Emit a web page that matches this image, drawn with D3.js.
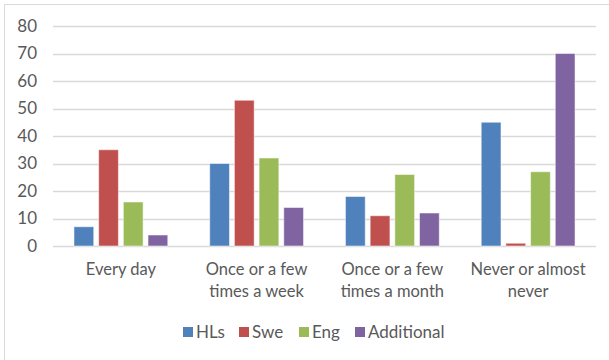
<!DOCTYPE html>
<html>
<head>
<meta charset="utf-8">
<script src="https://cdn.jsdelivr.net/npm/d3@7"></script>
<style>
  html, body { margin: 0; padding: 0; background: #fff; }
  svg { display: block; }
  text { font-family: Lato, "Open Sans", sans-serif; fill: #595959; }
</style>
</head>
<body>
<script>
// Frequency categories (two-line labels where wrapped)
const categories = [
  ["Every day"],
  ["Once or a few", "times a week"],
  ["Once or a few", "times a month"],
  ["Never or almost", "never"]
];
const seriesNames = ["HLs", "Swe", "Eng", "Additional"];
const seriesColors = ["#4F81BD", "#C0504D", "#9BBB59", "#8064A2"];
const hls        = [7, 30, 18, 45];
const swe        = [35, 53, 11, 1];
const eng        = [16, 32, 26, 27];
const additional = [4, 14, 12, 70];
const yTicks = [0, 10, 20, 30, 40, 50, 60, 70, 80];

const seriesValues = [hls, swe, eng, additional];

const W = 609, H = 360;
const margin = { left: 53, right: 13, top: 26, bottom: 114 };

const svg = d3.select("body").append("svg")
  .attr("width", W).attr("height", H);

// chart area frame
svg.append("rect")
  .attr("x", 4.5).attr("y", 4.5)
  .attr("width", W + 10).attr("height", H + 10)
  .attr("fill", "#fff").attr("stroke", "#d9d9d9").attr("stroke-width", 1);

const x0 = d3.scaleBand()
  .domain(d3.range(categories.length))
  .range([margin.left, W - margin.right])
  .paddingInner(0).paddingOuter(0);

const x1 = d3.scaleBand()
  .domain(d3.range(seriesNames.length))
  .range([0, x0.bandwidth()])
  .paddingInner(0.2)
  .paddingOuter(0.85);

const y = d3.scaleLinear()
  .domain([0, 80])
  .range([H - margin.bottom, margin.top]);

// gridlines
svg.append("g")
  .selectAll("line")
  .data(yTicks)
  .join("line")
  .attr("x1", margin.left).attr("x2", W - margin.right)
  .attr("y1", d => Math.round(y(d)) + 0.5).attr("y2", d => Math.round(y(d)) + 0.5)
  .attr("stroke", "#d9d9d9").attr("stroke-width", 1.5);

// y axis labels
const yAxis = d3.axisLeft(y).tickValues(yTicks).tickSize(0).tickPadding(0);
const yg = svg.append("g")
  .attr("transform", `translate(${margin.left - 16},0)`)
  .call(yAxis);
yg.select(".domain").remove();
yg.selectAll("text")
  .attr("font-size", 17)
  .style("font-family", "Lato, 'Open Sans', sans-serif")
  .attr("fill", "#595959");

// bars
const groups = svg.append("g")
  .selectAll("g")
  .data(categories.map((c, i) => i))
  .join("g")
  .attr("transform", i => `translate(${x0(i)},0)`);

groups.selectAll("rect")
  .data(i => seriesValues.map((vals, s) => ({ s, v: vals[i] })))
  .join("rect")
  .attr("x", d => x1(d.s))
  .attr("width", x1.bandwidth())
  .attr("y", d => y(d.v))
  .attr("height", d => y(0) - y(d.v))
  .attr("fill", d => seriesColors[d.s])
  .attr("stroke", "#fff").attr("stroke-opacity", 0.5).attr("stroke-width", 1);

// category labels
const xg = svg.append("g");
categories.forEach((lines, i) => {
  const t = xg.append("text")
    .attr("x", x0(i) + x0.bandwidth() / 2)
    .attr("y", 275)
    .attr("text-anchor", "middle")
    .attr("font-size", 16.5);
  lines.forEach((ln, k) => {
    t.append("tspan")
      .attr("x", x0(i) + x0.bandwidth() / 2)
      .attr("dy", k === 0 ? 0 : 21.5)
      .text(ln);
  });
});

// legend
const legendX = [183, 239, 299, 355];
const legend = svg.append("g");
seriesNames.forEach((name, s) => {
  legend.append("rect")
    .attr("x", legendX[s]).attr("y", 327)
    .attr("width", 10).attr("height", 10)
    .attr("fill", seriesColors[s]);
  legend.append("text")
    .attr("x", legendX[s] + 13).attr("y", 337.5)
    .attr("font-size", 17)
    .text(name);
});
</script>
</body>
</html>
